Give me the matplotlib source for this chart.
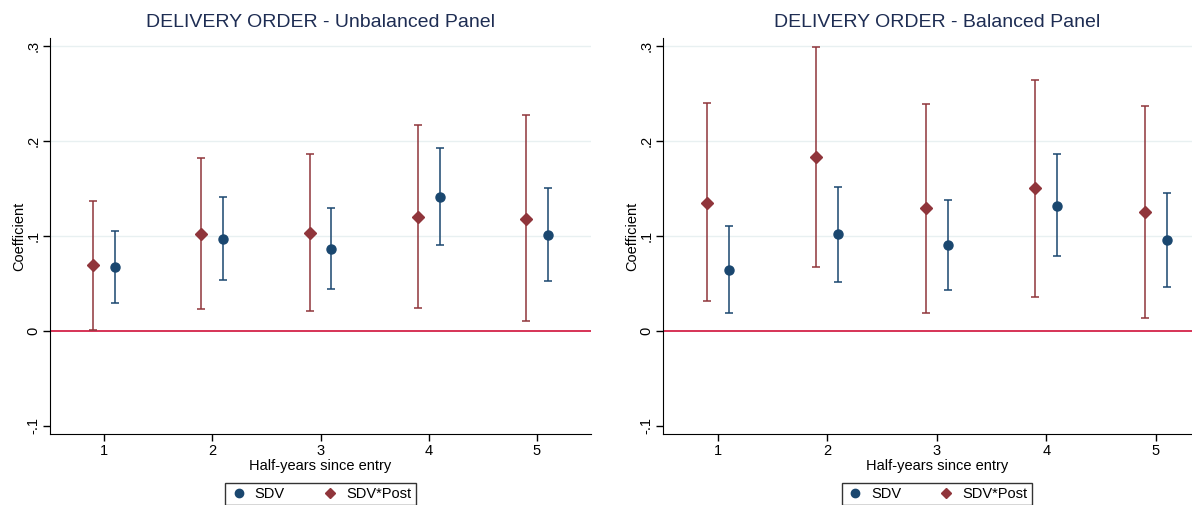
import matplotlib.pyplot as plt
from matplotlib.lines import Line2D
import numpy as np

plt.rcParams['font.family'] = ['Liberation Sans', 'DejaVu Sans']

periods = [1, 2, 3, 4, 5]
yticks = [-0.1, 0, 0.1, 0.2, 0.3]
ytick_labels = ['-.1', '0', '.1', '.2', '.3']

# unbalanced panel
unb_sdv = [0.067, 0.097, 0.086, 0.141, 0.101]
unb_sdv_lo = [0.029, 0.054, 0.044, 0.090, 0.052]
unb_sdv_hi = [0.105, 0.141, 0.129, 0.193, 0.150]
unb_post = [0.069, 0.102, 0.103, 0.120, 0.118]
unb_post_lo = [0.001, 0.023, 0.021, 0.024, 0.010]
unb_post_hi = [0.137, 0.182, 0.186, 0.217, 0.227]

# balanced panel
bal_sdv = [0.064, 0.102, 0.090, 0.132, 0.096]
bal_sdv_lo = [0.019, 0.051, 0.043, 0.079, 0.046]
bal_sdv_hi = [0.110, 0.152, 0.138, 0.186, 0.145]
bal_post = [0.135, 0.183, 0.129, 0.150, 0.125]
bal_post_lo = [0.031, 0.067, 0.019, 0.036, 0.013]
bal_post_hi = [0.240, 0.299, 0.239, 0.264, 0.237]

navy = '#1a476f'
maroon = '#90353b'

fig = plt.figure(figsize=(11.92, 5.05), dpi=100)
W, H = 1192, 505


def panel(rect, title, sdv, sdv_lo, sdv_hi, post, post_lo, post_hi):
    ax = fig.add_axes(rect)
    x = np.array(periods)
    ax.errorbar(x + 0.1, sdv,
                yerr=[np.array(sdv) - np.array(sdv_lo), np.array(sdv_hi) - np.array(sdv)],
                fmt='o', color=navy, ms=6.5, elinewidth=1.1, capsize=3, capthick=1.1,
                zorder=3)
    ax.errorbar(x - 0.1, post,
                yerr=[np.array(post) - np.array(post_lo), np.array(post_hi) - np.array(post)],
                fmt='D', color=maroon, ms=6, elinewidth=1.1, capsize=3, capthick=1.1,
                zorder=3)
    ax.axhline(0, color='#d0103a', lw=1.2, zorder=2)
    for g in [0.1, 0.2, 0.3]:
        ax.axhline(g, color='#e8f0f1', lw=1, zorder=1)
    ax.set_xlim(0.5, 5.5)
    ax.set_ylim(-0.1089, 0.3087)
    ax.set_xticks(periods)
    ax.set_yticks(yticks)
    ax.set_yticklabels(ytick_labels, rotation=90, va='center')
    ax.tick_params(labelsize=10.5, length=5, width=1, color='black')
    ax.tick_params(axis='y', pad=2)
    ax.tick_params(axis='x', pad=2)
    ax.spines['top'].set_visible(False)
    ax.spines['right'].set_visible(False)
    ax.set_xlabel('Half-years since entry', fontsize=10.5, labelpad=1)
    ax.set_ylabel('Coefficient', fontsize=10.5, labelpad=0)
    ax.set_title(title, fontsize=14, color='#1e2d53', pad=8)
    handles = [Line2D([], [], ls='none', marker='o', color=navy, ms=6),
               Line2D([], [], ls='none', marker='D', color=maroon, ms=5.5)]
    leg = ax.legend(handles, ['SDV', 'SDV*Post'], loc='upper center',
                    bbox_to_anchor=(0.5, -0.112), ncol=2,
                    frameon=True, fancybox=False, edgecolor='black', fontsize=10.5,
                    handlelength=1.2, handletextpad=0.5, columnspacing=2.5,
                    borderpad=0.3, borderaxespad=0.3)
    leg.get_frame().set_linewidth(1)
    return ax


panel([50 / W, 71 / H, 541 / W, 396 / H], 'DELIVERY ORDER - Unbalanced Panel',
      unb_sdv, unb_sdv_lo, unb_sdv_hi, unb_post, unb_post_lo, unb_post_hi)
panel([663 / W, 71 / H, 547.5 / W, 396 / H], 'DELIVERY ORDER - Balanced Panel',
      bal_sdv, bal_sdv_lo, bal_sdv_hi, bal_post, bal_post_lo, bal_post_hi)

fig.savefig('out.png', dpi=100)
